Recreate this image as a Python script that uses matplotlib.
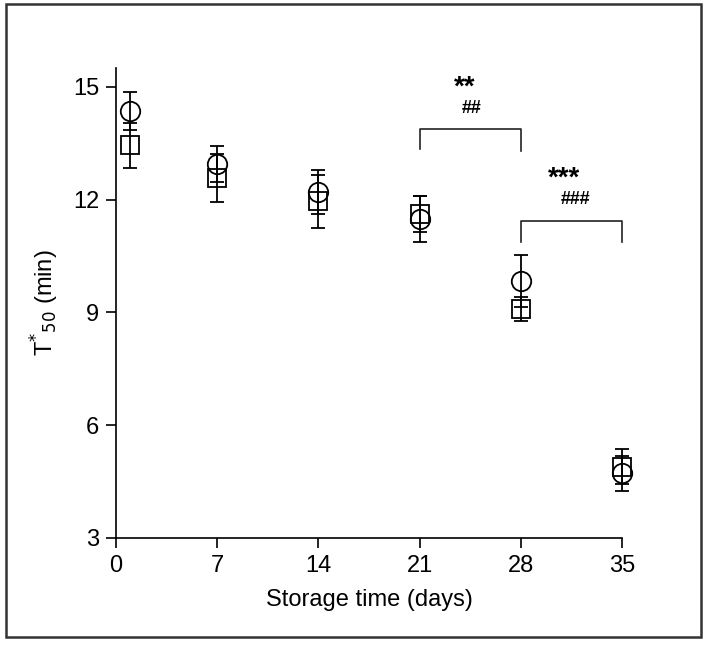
import numpy as np
import matplotlib
matplotlib.use("Agg")
import matplotlib.pyplot as plt
from matplotlib.patches import Rectangle

plt.rcParams["font.family"] = ["Liberation Sans", "DejaVu Sans"]

# ============================================================
# data
# ============================================================
days_circle = [1, 7, 14, 21, 28, 35]
t50_circle = [14.35, 12.95, 12.20, 11.48, 9.84, 4.72]
err_circle = [0.50, 0.47, 0.58, 0.62, 0.69, 0.47]

days_square = [1, 7, 14, 21, 28, 35]
t50_square = [13.45, 12.57, 11.95, 11.62, 9.09, 4.90]
err_square = [0.60, 0.63, 0.70, 0.48, 0.33, 0.46]

xticks = [0, 7, 14, 21, 28, 35]
yticks = [3, 6, 9, 12, 15]

# significance brackets: (x_left, x_right, y_top, y_leg_left, y_leg_right)
brackets = [(21, 28, 13.88, 13.34, 13.28), (28, 35, 11.42, 10.86, 10.86)]
stars = [("**", 24.1, 14.97), ("***", 31.0, 12.55)]
hashes = [("##", 24.6, 14.43), ("###", 31.8, 12.01)]

# ============================================================
# figure
# ============================================================
fig = plt.figure(figsize=(7.08, 6.45), dpi=100)
ax = fig.add_axes([116 / 708, 1 - 538 / 645, (622 - 116) / 708, (538 - 68) / 645])

lw = 1.3
for x, y, e, m, ms in [(days_square, t50_square, err_square, "s", 13.5),
                       (days_circle, t50_circle, err_circle, "o", 14)]:
    cont = ax.errorbar(x, y, yerr=e, fmt=m, ms=ms, mfc="none", mec="black",
                       mew=lw, ecolor="black", elinewidth=lw, capsize=5,
                       capthick=lw, zorder=3)
    for art in cont.get_children():
        art.set_clip_on(False)

for xl, xr, yt, yl, yr in brackets:
    ax.plot([xl, xl, xr, xr], [yl, yt, yt, yr], color="#222222", lw=1.2,
            clip_on=False)
for s, x, y in stars:
    ax.text(x, y, s, ha="center", va="center", fontsize=20, fontweight="bold")
for s, x, y in hashes:
    ax.text(x, y, s, ha="center", va="center", fontsize=13, fontweight="bold")

ax.set_xlim(0, 35)
ax.set_ylim(3, 15.5)
ax.set_xticks(xticks)
ax.set_yticks(yticks)
ax.tick_params(direction="out", length=7, width=1.2, labelsize=17, pad=5)
for side in ["top", "right"]:
    ax.spines[side].set_visible(False)
for side in ["left", "bottom"]:
    ax.spines[side].set_linewidth(1.2)

ax.set_xlabel("Storage time (days)", fontsize=17, labelpad=9)
ax.set_ylabel("T$^{*}$$_{50}$ (min)", fontsize=17, labelpad=9)

# outer frame
fig.patches.append(Rectangle((6 / 708, 1 - 637 / 645), 695 / 708, 633 / 645,
                             transform=fig.transFigure, fill=False,
                             edgecolor="#333333", lw=1.8))

fig.savefig("out.png", dpi=100)
